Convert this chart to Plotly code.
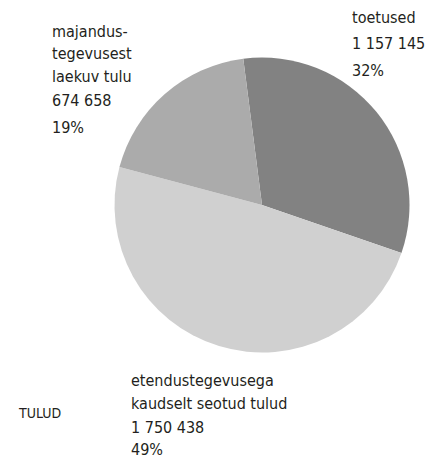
import plotly.graph_objects as go

# ---- data ----
categories = ["toetused", "etendustegevusega kaudselt seotud tulud", "majandustegevusest laekuv tulu"]
label_lines = [["toetused"], ["etendustegevusega", "kaudselt seotud tulud"], ["majandus-", "tegevusest", "laekuv tulu"]]
values = [1157145, 1750438, 674658]
colors = ["#828282", "#d0d0d0", "#ababab"]
title_text = "TULUD"

W, H = 426, 459
FONT = "DejaVu Sans Condensed, Liberation Sans, sans-serif"
TXT = "#231f20"

total = sum(values)

def fmt(v):
    return f"{v:,}".replace(",", " ")

cx, cy, r = 262, 205, 147.5

fig = go.Figure(go.Pie(
    labels=categories, values=values, sort=False, direction="clockwise",
    rotation=-7.3, marker=dict(colors=colors, line=dict(width=0)),
    textinfo="none", hoverinfo="label+value+percent", showlegend=False,
    domain=dict(x=[(cx - r) / W, (cx + r) / W], y=[(H - cy - r) / H, (H - cy + r) / H]),
))

# label block placements (left x, y of each line centre in px)
blocks = [
    (351, [18, 44, 70]),
    (130, [380, 403, 427, 449]),
    (51, [31, 53, 76, 101, 127]),
]
annotations = []
for i, (x0, ys) in enumerate(blocks):
    lines = label_lines[i] + [fmt(values[i]), f"{round(values[i] / total * 100)}%"]
    for line, y in zip(lines, ys):
        annotations.append(dict(
            text=line, x=x0 / W, y=1 - y / H, xref="paper", yref="paper",
            xanchor="left", yanchor="middle", showarrow=False,
            font=dict(family=FONT, size=16, color=TXT), borderpad=0,
        ))
annotations.append(dict(
    text=title_text, x=17 / W, y=1 - 413 / H, xref="paper", yref="paper",
    xanchor="left", yanchor="middle", showarrow=False,
    font=dict(family=FONT, size=14, color=TXT), borderpad=0,
))

fig.update_layout(
    width=W, height=H, margin=dict(l=0, r=0, t=0, b=0),
    paper_bgcolor="white", plot_bgcolor="white",
    annotations=annotations,
)
fig.write_html("out.html", config={"displayModeBar": False},
               post_script="document.body.style.margin='0';")
